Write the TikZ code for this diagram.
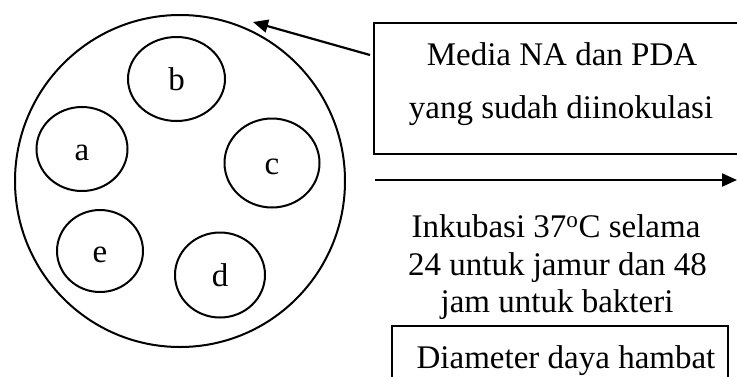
\documentclass[tikz,border=0pt]{standalone}
\usepackage{fontspec}
\setmainfont{Liberation Serif}
\usetikzlibrary{shapes.geometric,arrows.meta}
\begin{document}
\begin{tikzpicture}[x=1pt,y=-1pt,
  every node/.style={font=\fontsize{33}{38}\selectfont},
  well/.style={draw,ellipse,line width=2pt,inner sep=0pt,text height=22pt,text depth=0pt},
  frame/.style={draw,rectangle,line width=2.5pt,inner sep=0pt},
  txt/.style={anchor=base,inner sep=0pt},
  arr/.style={line width=2.2pt,-{Triangle[length=15pt,width=13pt]}}]
\useasboundingbox (0,0) rectangle (737,376);
% plate
\node[well,minimum width=330pt,minimum height=332pt] (plate) at (180,181) {};
\node[well,minimum width=97pt,minimum height=84pt] (b) at (176.5,79) {b};
\node[well,minimum width=91pt,minimum height=84pt] (a) at (82,149) {a};
\node[well,minimum width=95pt,minimum height=89pt] (c) at (272,163) {c};
\node[well,minimum width=86pt,minimum height=82pt] (e) at (100,251) {e};
\node[well,minimum width=90pt,minimum height=85pt] (d) at (220,275) {d};
% box 1
\node[frame,minimum width=386pt,minimum height=131pt] (box1) at (567,88.5) {};
\node[txt] (m1) at (562,65) {Media NA dan PDA};
\node[txt] (m2) at (561,118) {yang sudah diinokulasi};
% arrow to plate
\coordinate (s1) at (370,55);
\coordinate (t1) at (253,22);
\draw[arr] (s1) -- (t1);
% horizontal arrow
\coordinate (s2) at (375,180);
\coordinate (t2) at (737,180);
\draw[arr] (s2) -- (t2);
% incubation text
\node[txt] (i1) at (556,237) {Inkubasi 37\textsuperscript{o}C selama};
\node[txt] (i2) at (557.5,275) {24 untuk jamur dan 48};
\node[txt] (i3) at (557,312) {jam untuk bakteri};
% box 2
\node[frame,minimum width=336pt,minimum height=80pt] (box2) at (560,366) {};
\node[txt] (dd) at (566,368) {Diameter daya hambat};
\end{tikzpicture}
\end{document}
